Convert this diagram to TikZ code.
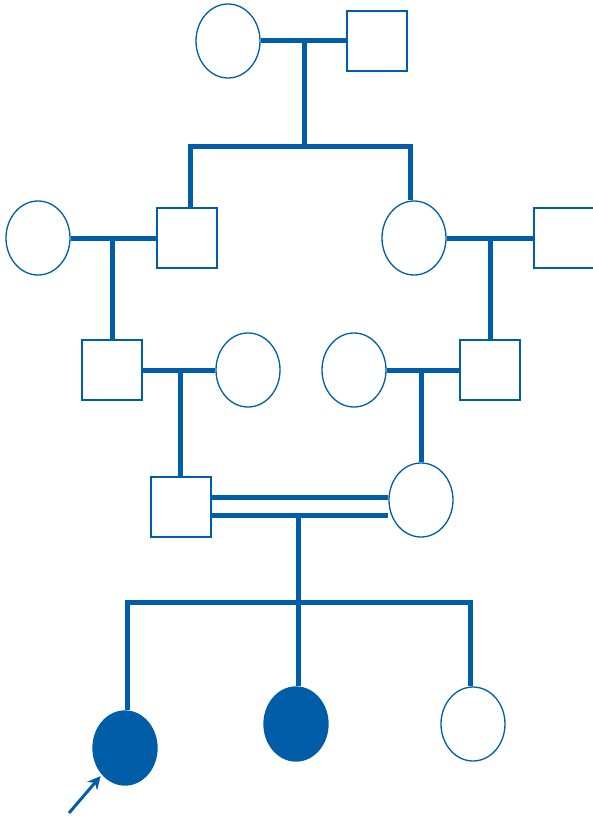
\documentclass[tikz,border=0pt]{standalone}
\usetikzlibrary{shapes.geometric, arrows.meta}

\definecolor{pedblue}{RGB}{0,94,168}

\tikzset{
    male/.style={draw=pedblue, line width=1.3pt, fill=white, minimum size=60pt, inner sep=0pt},
    female/.style={ellipse, draw=pedblue, line width=1.3pt, fill=white, minimum width=64pt, minimum height=74pt, inner sep=0pt},
    affected/.style={fill=pedblue},
    link/.style={draw=pedblue, line width=5pt}
}

\begin{document}
\begin{tikzpicture}[x=1pt, y=-1pt, >=Stealth]
    \useasboundingbox (0,0) rectangle (593,818);
    \clip (0,0) rectangle (593,818);

    % generation I
    \node[female] (gmA) at (228,41) {};
    \node[male]   (gfA) at (377,41) {};

    % generation II
    \node[female] (gmB) at (38,238) {};
    \node[male]   (sonA) at (187,238) {};
    \node[female] (dauA) at (414,238) {};
    \node[male]   (gfB) at (564,238) {};

    % generation III
    \node[male]   (sonB) at (112,370) {};
    \node[female] (wifeB) at (248,370) {};
    \node[female] (wifeC) at (354,370) {};
    \node[male]   (sonC) at (490,370) {};

    % generation IV
    \node[male]   (hus) at (181,507) {};
    \node[female] (wife) at (421,500) {};

    % generation V
    \node[female, affected] (pro) at (125,748) {};
    \node[female, affected] (sisA) at (296,724) {};
    \node[female] (sisB) at (473,724) {};

    % matings
    \draw[link] (gmA) -- (gfA);
    \draw[link] (gmB) -- (sonA);
    \draw[link] (dauA) -- (gfB);
    \draw[link] (sonB) -- (wifeB);
    \draw[link] (wifeC) -- (sonC);
    \coordinate (consA) at ([yshift=10pt]hus.east);
    \coordinate (consB) at ([yshift=-8pt]hus.east);
    \draw[link] (consA) -- (consA -| wife.west);
    \draw[link] (consB) -- (consB -| wife.west);

    % descent lines
    \coordinate (sibA) at (304,147);
    \draw[link] (gmA.east -| sibA) -- (sibA);
    \draw[link] ([xshift=3pt]sonA.north) |- (sibA) -| ([xshift=-4pt]dauA.north);

    \draw[link] (sonB.north |- gmB.east) -- (sonB.north);
    \draw[link] (sonC.north |- gfB.west) -- (sonC.north);
    \coordinate (husTop) at ([xshift=-1pt]hus.north);
    \draw[link] (husTop |- wifeB.west) -- (husTop);
    \draw[link] (wife.north |- sonC.west) -- (wife.north);

    \coordinate (sibB) at (298,602);
    \draw[link] (sibB |- consB) -- (sibB);
    \draw[link] ([xshift=2pt]pro.north) |- (sibB) -| ([xshift=-3pt]sisB.north);
    \draw[link] (sibB) -- (sibB |- sisA.north);

    % proband
    \coordinate (pointer) at (69,813);
    \draw[draw=pedblue, line width=3pt, shorten >=2pt, -{Stealth[length=13pt, width=13pt]}] (pointer) -- (pro.south west);
\end{tikzpicture}
\end{document}
